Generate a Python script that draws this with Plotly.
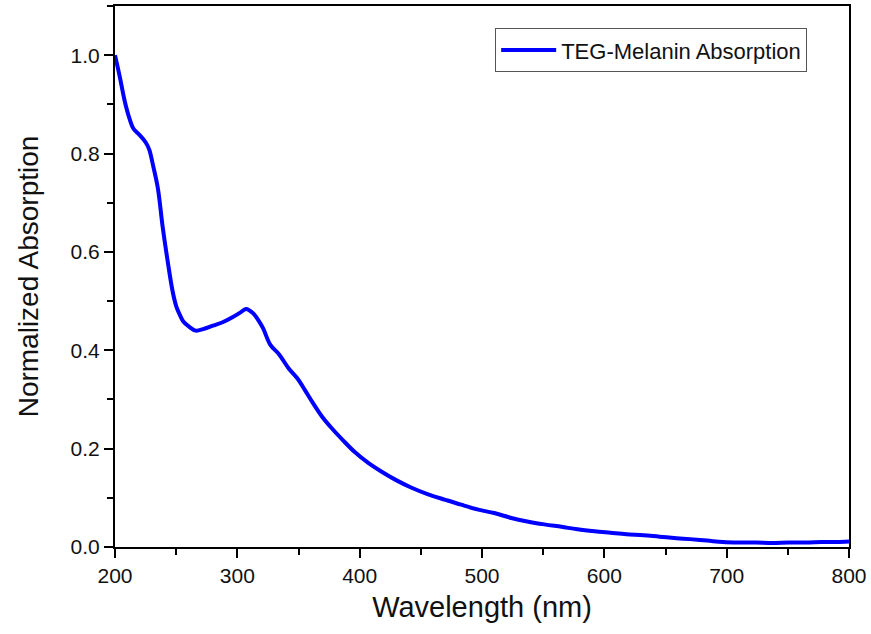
# Import libraries
import plotly.graph_objects as go

# Absorption spectrum
wavelength = [200, 204, 208, 212, 215, 220, 225, 228, 231, 235, 239, 243, 247, 250,
              253, 256, 260, 266, 272, 280, 288, 296, 302, 307, 310, 313, 317, 321,
              327, 334, 342, 349, 355, 362, 369, 377, 386, 396, 407, 418, 429, 442,
              456, 470, 483, 497, 510, 524, 537, 551, 565, 578, 592, 605, 618, 632,
              645, 659, 670, 684, 697, 710, 724, 737, 751, 765, 778, 790, 800]
absorption = [1.0, 0.955, 0.906, 0.87, 0.851, 0.838, 0.823, 0.808, 0.777, 0.730,
              0.650, 0.582, 0.521, 0.49, 0.472, 0.458, 0.449, 0.440, 0.443, 0.450,
              0.457, 0.467, 0.476, 0.484, 0.481, 0.475, 0.462, 0.445, 0.411, 0.392,
              0.363, 0.343, 0.320, 0.292, 0.266, 0.242, 0.218, 0.193, 0.171, 0.153,
              0.137, 0.121, 0.107, 0.096, 0.086, 0.076, 0.069, 0.059, 0.052, 0.046,
              0.041, 0.036, 0.032, 0.029, 0.026, 0.024, 0.021, 0.018, 0.016, 0.013,
              0.010, 0.009, 0.009, 0.008, 0.009, 0.009, 0.010, 0.010, 0.011]
series_name = "TEG-Melanin Absorption"

fig = go.Figure()
fig.add_trace(go.Scatter(x=wavelength, y=absorption, mode="lines", name=series_name,
                         line=dict(color="#0000ff", width=4, shape="spline")))

axis_style = dict(
    showline=True, linecolor="black", linewidth=2, mirror=True,
    showgrid=False, zeroline=False,
    ticks="outside", ticklen=9, tickwidth=2, tickcolor="black",
    tickfont=dict(size=21, color="#111111"),
)

fig.update_layout(
    width=871, height=634,
    margin=dict(l=115, r=18, t=4, b=87),
    paper_bgcolor="white", plot_bgcolor="white",
    font=dict(family="Liberation Sans, Arial, sans-serif", color="#111111"),
    showlegend=True,
    legend=dict(x=0.943, y=0.959, xanchor="right", yanchor="top",
                bordercolor="#555555", borderwidth=1, bgcolor="white",
                font=dict(size=22), itemwidth=55),
)
fig.update_xaxes(range=[200, 800], dtick=100, tick0=200,
                 minor=dict(dtick=50, ticks="outside", ticklen=6, tickwidth=2, tickcolor="black"),
                 title=dict(text="Wavelength (nm)", font=dict(size=29), standoff=10),
                 **axis_style)
fig.update_yaxes(range=[0, 1.1], dtick=0.2, tick0=0, tickformat=".1f",
                 minor=dict(dtick=0.1, ticks="outside", ticklen=6, tickwidth=2, tickcolor="black"),
                 title=dict(text="Normalized Absorption", font=dict(size=28), standoff=24),
                 **axis_style)

# drop the page's default body margin so the figure sits at the window's corner
fig.write_html("out.html", config={"displayModeBar": False},
               post_script="document.body.style.margin='0px';")
